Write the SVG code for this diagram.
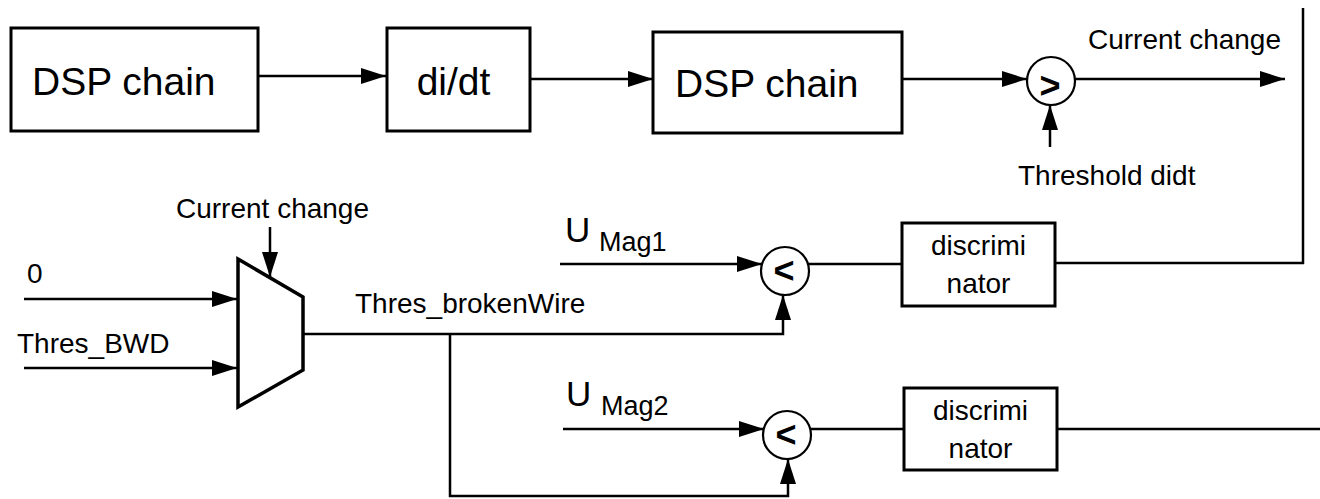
<svg xmlns="http://www.w3.org/2000/svg" width="1320" height="499" viewBox="0 0 1320 499">
<style>
  .box { fill: #fff; stroke: #000; stroke-width: 3; }
  .cmp { fill: #fff; stroke: #000; stroke-width: 2.2; }
  .mux { fill: #fff; stroke: #000; stroke-width: 3.5; stroke-linejoin: miter; }
  .ln { fill: none; stroke: #000; stroke-width: 2.5; }
  .arr { marker-end: url(#ah); }
  text { font-family: "Liberation Sans", Arial, sans-serif; fill: #000; }
  .big { font-size: 39px; }
  .lbl { font-size: 28px; }
  .op { font-size: 36px; font-weight: bold; text-anchor: middle; }
  .mid { text-anchor: middle; }
</style>
<defs>
  <marker id="ah" viewBox="0 0 10 10" refX="10" refY="5" markerUnits="userSpaceOnUse" markerWidth="25" markerHeight="16" orient="auto" preserveAspectRatio="none">
    <path d="M0,0 L10,5 L0,10 z" fill="#000"/>
  </marker>
</defs>

<g id="connectors">
  <line class="ln arr" x1="258" y1="76" x2="386" y2="76"/>
  <line class="ln arr" x1="530" y1="79" x2="653" y2="79"/>
  <line class="ln arr" x1="902" y1="79" x2="1027" y2="79"/>
  <line class="ln arr" x1="1075" y1="79" x2="1285" y2="79"/>
  <line class="ln arr" x1="1050" y1="147" x2="1050" y2="105"/>
  <line class="ln arr" x1="270" y1="227" x2="270" y2="277"/>
  <line class="ln arr" x1="24" y1="299" x2="237" y2="299"/>
  <line class="ln arr" x1="24" y1="368" x2="237" y2="368"/>
  <polyline class="ln arr" points="303,334 783,334 783,295"/>
  <polyline class="ln arr" points="450,334 450,496 788,496 788,459"/>
  <line class="ln arr" x1="560" y1="264" x2="762" y2="264"/>
  <line class="ln arr" x1="563" y1="429" x2="764" y2="429"/>
  <line class="ln" x1="808" y1="264" x2="902" y2="264"/>
  <line class="ln" x1="1055" y1="263" x2="1304" y2="263"/>
  <line class="ln" x1="1303" y1="8" x2="1303" y2="264"/>
  <line class="ln" x1="810" y1="429" x2="904" y2="429"/>
  <line class="ln" x1="1057" y1="429" x2="1320" y2="429"/>
</g>

<g id="dsp1">
  <rect class="box" x="11" y="28" width="247" height="103"/>
  <text class="big" x="32" y="95">DSP chain</text>
</g>
<g id="didt">
  <rect class="box" x="387" y="28" width="143" height="103"/>
  <text class="big mid" x="453.5" y="95" font-size="41">di/dt</text>
</g>
<g id="dsp2">
  <rect class="box" x="653" y="32" width="249" height="101"/>
  <text class="big" x="675" y="97">DSP chain</text>
</g>
<g id="cmp_gt">
  <circle class="cmp" cx="1051" cy="81" r="24"/>
  <text class="op" x="1050" y="98">&gt;</text>
</g>
<g id="label_current_change_top">
  <text class="lbl" x="1088" y="49" font-size="29">Current change</text>
</g>
<g id="label_threshold_didt">
  <text class="lbl" x="1018" y="185">Threshold didt</text>
</g>

<g id="mux">
  <polygon class="mux" points="238,259 303,297 303,370 238,407"/>
</g>
<g id="label_current_change_mux">
  <text class="lbl" x="176" y="218">Current change</text>
</g>
<g id="label_zero">
  <text class="lbl" x="27" y="283">0</text>
</g>
<g id="label_thres_bwd">
  <text class="lbl" x="17" y="353" font-size="27">Thres_BWD</text>
</g>
<g id="label_thres_brokenwire">
  <text class="lbl" x="355" y="313">Thres_brokenWire</text>
</g>

<g id="label_umag1">
  <text x="565" y="242" font-size="35">U</text>
  <text x="599" y="251" font-size="27">Mag1</text>
</g>
<g id="cmp_lt1">
  <circle class="cmp" cx="785" cy="271" r="24"/>
  <text class="op" x="784" y="283">&lt;</text>
</g>
<g id="disc1">
  <rect class="box" x="902" y="223" width="153" height="83"/>
  <text class="lbl mid" x="978.5" y="255">discrimi</text>
  <text class="lbl mid" x="978.5" y="293">nator</text>
</g>

<g id="label_umag2">
  <text x="566" y="406" font-size="35">U</text>
  <text x="601" y="415" font-size="27">Mag2</text>
</g>
<g id="cmp_lt2">
  <circle class="cmp" cx="787" cy="435" r="24"/>
  <text class="op" x="786" y="447">&lt;</text>
</g>
<g id="disc2">
  <rect class="box" x="904" y="388" width="153" height="82"/>
  <text class="lbl mid" x="980.5" y="420">discrimi</text>
  <text class="lbl mid" x="980.5" y="458">nator</text>
</g>
</svg>
